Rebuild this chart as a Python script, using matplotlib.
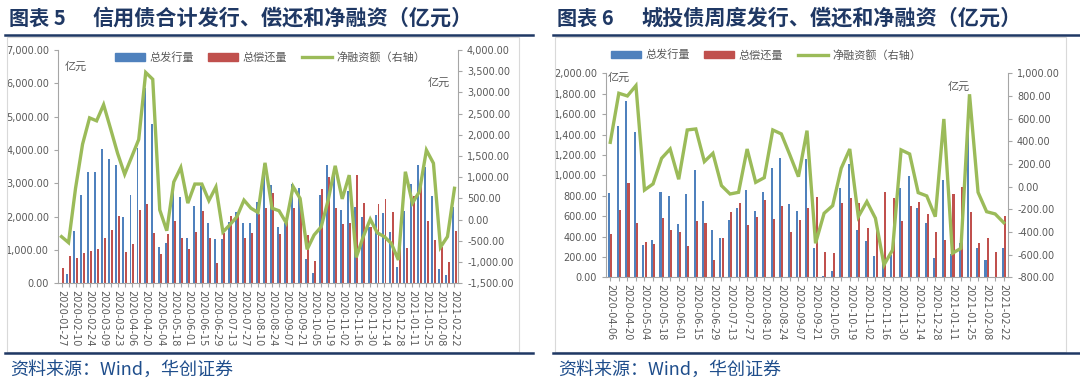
import matplotlib
matplotlib.use('Agg')
import matplotlib.pyplot as plt
import matplotlib.ticker as tk
from matplotlib.patches import Rectangle
from matplotlib.lines import Line2D
import numpy as np
import pandas as pd

plt.rcParams['font.family'] = ['Liberation Sans', 'Noto Sans CJK SC', 'DejaVu Sans']
plt.rcParams['axes.unicode_minus'] = False

# ---- panel 5: credit bonds, weekly, 2020-01-27 .. 2021-02-22 (亿元)
dates5 = pd.date_range('2020-01-27', '2021-02-22', freq='7D').strftime('%Y-%m-%d')
issue5 = [0, 270, 1570, 2650, 3350, 3340, 4040, 3740, 3550, 1990,
          2650, 4070, 5850, 4790, 1100, 1200, 2750, 2600, 1370, 2310,
          2930, 1800, 1340, 1320, 1840, 2150, 1800, 1820, 2430, 3570,
          2940, 1680, 1800, 2980, 2860, 720, 300, 2650, 3550, 3450,
          2200, 2780, 2300, 2000, 1690, 2040, 2110, 1550, 480, 2170,
          2980, 3550, 3500, 2630, 420, 240, 2280]
repay5 = [450, 810, 750, 900, 970, 1020, 1350, 1600, 2020, 930,
          1170, 2200, 2380, 1500, 870, 1480, 1870, 1350, 1030, 1530,
          2160, 1350, 620, 1520, 2010, 2060, 1370, 1520, 2080, 2250,
          2700, 1470, 1860, 2250, 2350, 1450, 660, 2830, 3200, 2250,
          1770, 1800, 3250, 2400, 1680, 2380, 2530, 2130, 1430, 1050,
          2630, 2920, 1870, 1300, 1100, 640, 1570]
net5 = [-400, -540, 740, 1780, 2400, 2330, 2710, 2140, 1560, 1070,
        1480, 1890, 3470, 3310, 230, -260, 890, 1230, 390, 840,
        840, 450, 770, -290, -120, 70, 460, 270, 170, 1340,
        270, 210, -70, 780, 500, -700, -360, -170, 460, 1270,
        490, 1050, -890, -400, 10, -310, -400, -560, -950, 1130,
        390, 660, 1640, 1330, -650, -400, 740]

# ---- panel 6: LGFV bonds, weekly, 2020-04-06 .. 2021-02-22 (亿元)
dates6 = pd.date_range('2020-04-06', '2021-02-22', freq='7D').strftime('%Y-%m-%d')
issue6 = [824, 1487, 1729, 1422, 317, 363, 833, 800, 520, 814,
          1052, 745, 461, 386, 559, 680, 856, 647, 833, 1075,
          1173, 716, 647, 1160, 284, 10, 62, 879, 1108, 464,
          356, 212, 142, 222, 879, 993, 683, 533, 186, 954,
          225, 340, 1461, 284, 170, 0, 284]
repay6 = [422, 660, 921, 533, 343, 330, 582, 461, 441, 307,
          549, 529, 170, 386, 637, 725, 516, 591, 758, 572,
          703, 441, 559, 676, 791, 245, 235, 725, 778, 725,
          487, 487, 833, 781, 552, 702, 735, 618, 441, 366,
          814, 885, 644, 333, 386, 245, 604]
net6 = [391, 824, 800, 891, -30, 24, 250, 332, 65, 500,
        509, 221, 294, 9, -65, -50, 332, 38, 79, 500,
        465, 279, 88, 494, -500, -235, -168, 162, 332, -265,
        -132, -279, -691, -559, 324, 288, -53, -82, -265, 597,
        -588, -544, 815, -50, -221, -241, -318]

legend_labels = ['总发行量', '总偿还量', '净融资额（右轴）']
fig_no = ['图表 5', '图表 6']
titles = ['信用债合计发行、偿还和净融资（亿元）', '城投债周度发行、偿还和净融资（亿元）']
source = '资料来源：Wind，华创证券'

BLUE = '#4F81BD'
RED = '#C0504D'
GREEN = '#9BBB59'
NAVY = '#1F3864'
GREY = '#595959'
SPINE = '#A6A6A6'
CJK = ['Noto Sans CJK SC', 'DejaVu Sans']

W, H = 1080, 392
fig = plt.figure(figsize=(W / 100, H / 100), dpi=100)


def fx(px):
    return px / W


def fy(py):
    return 1 - py / H


def money(v, pos):
    return '{:,.2f}'.format(v)


def draw_panel(rect, dates, issue, repay, net, lim1, step1, lim2, step2, bw, off):
    ax = fig.add_axes(rect)
    x = np.arange(len(dates))
    ax.bar(x - off, issue, width=bw, color=BLUE, zorder=2)
    ax.bar(x + off, repay, width=bw, color=RED, zorder=2)
    ax.set_xlim(-0.5, len(dates) - 0.5)
    ax.set_ylim(*lim1)
    ax.set_yticks(np.arange(lim1[0], lim1[1] + 1, step1))
    ax.yaxis.set_major_formatter(tk.FuncFormatter(money))
    ax.set_xticks(x)
    ax.set_xticklabels([d if i % 2 == 0 else '' for i, d in enumerate(dates)],
                       rotation=-90, fontsize=7, color=GREY, family='DejaVu Sans')
    ax.tick_params(axis='y', labelsize=7, labelcolor=GREY, length=3, color=SPINE)
    ax.tick_params(axis='x', length=3, color=SPINE, pad=2)
    for lab in ax.get_yticklabels():
        lab.set_family('DejaVu Sans')
    for s in ['top', 'right']:
        ax.spines[s].set_visible(False)
    for s in ['left', 'bottom']:
        ax.spines[s].set_color(SPINE)
    ax.patch.set_alpha(0)

    ax2 = ax.twinx()
    ax2.plot(x, net, color=GREEN, lw=2.4, solid_joinstyle='miter', zorder=3)
    ax2.set_ylim(*lim2)
    ax2.set_yticks(np.arange(lim2[0], lim2[1] + 1, step2))
    ax2.yaxis.set_major_formatter(tk.FuncFormatter(money))
    ax2.tick_params(axis='y', labelsize=7, labelcolor=GREY, length=3, color=SPINE)
    for lab in ax2.get_yticklabels():
        lab.set_family('DejaVu Sans')
    for s in ['top', 'left', 'bottom']:
        ax2.spines[s].set_visible(False)
    ax2.spines['right'].set_color(SPINE)
    return ax, ax2


# left panel
draw_panel([fx(58), fy(283.3), fx(400), 233.3 / H], dates5, issue5, repay5, net5,
           (0, 7000), 1000, (-1500, 4000), 500, 0.28, 0.17)
# right panel
draw_panel([fx(606), fy(277.3), fx(402), 204 / H], dates6, issue6, repay6, net6,
           (0, 2000), 200, (-800, 1000), 200, 0.24, 0.13)

handles = [Rectangle((0, 0), 1, 1, color=BLUE), Rectangle((0, 0), 1, 1, color=RED),
           Line2D([], [], color=GREEN, lw=2.4)]
for cx, cy in [(270, 57.5), (766, 55)]:
    fig.legend(handles, legend_labels, loc='center', bbox_to_anchor=(fx(cx), fy(cy)),
               ncol=3, frameon=False, prop={'family': CJK, 'size': 8},
               handlelength=2.7, handleheight=0.6, handletextpad=0.4,
               columnspacing=1.3, labelcolor=GREY)

# unit labels
for px, py in [(65, 67), (428, 83), (608, 78), (948, 87)]:
    fig.text(fx(px), fy(py), '亿元', ha='left', va='center', fontsize=8,
             color=GREY, family=CJK)

# titles, rules, frames and source lines
for x0, x1, no, title in [(5, 533, fig_no[0], titles[0]), (553, 1080, fig_no[1], titles[1])]:
    fig.text(fx(x0 + 4), fy(18), no, ha='left', va='center', fontsize=14.5,
             fontweight='bold', color=NAVY, family=CJK)
    fig.text(fx(x0 + 88), fy(18), title, ha='left', va='center', fontsize=15.2,
             fontweight='bold', color=NAVY, family=CJK)
    fig.add_artist(Line2D([fx(x0), fx(x1)], [fy(35), fy(35)], color=NAVY, lw=1.8))
    fig.add_artist(Line2D([fx(x0), fx(x1)], [fy(353), fy(353)], color=NAVY, lw=1.8))
    fig.add_artist(Rectangle((fx(x0 + 2), fy(352)), fx(x1 - x0 - 16), (352 - 37) / H,
                             fill=False, ec='#D9D9D9', lw=0.8))
    fig.text(fx(x0 + 5), fy(370), source, ha='left', va='center', fontsize=13,
             color='#1F4E8C', family=CJK, style='italic')

fig.savefig('out.png', dpi=100)
